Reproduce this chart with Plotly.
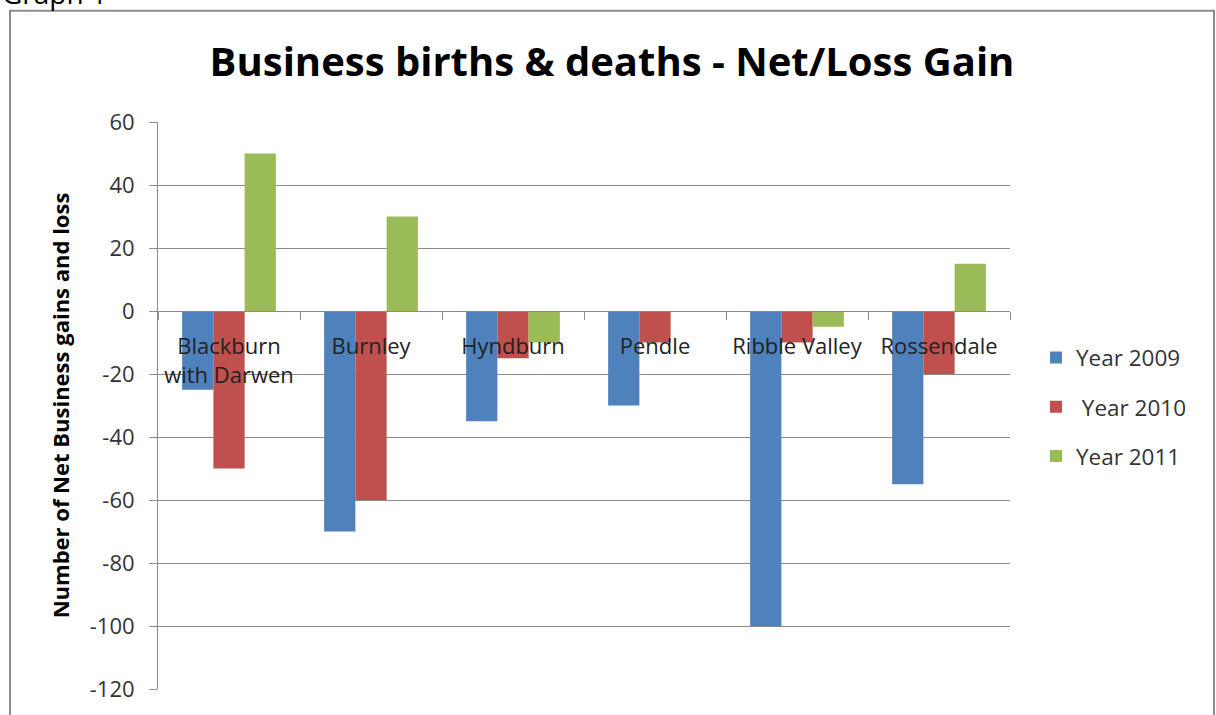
import plotly.graph_objects as go

categories = ["Blackburn<br>with Darwen", "Burnley", "Hyndburn", "Pendle", "Ribble Valley", "Rossendale"]
series_names = ["Year 2009", " Year 2010", "Year 2011"]
year_2009 = [-25, -70, -35, -30, -100, -55]
year_2010 = [-50, -60, -15, -10, -10, -20]
year_2011 = [50, 30, -10, 0, -5, 15]
colors = ["#4F81BD", "#C0504D", "#9BBB59"]
y_ticks = [-120, -100, -80, -60, -40, -20, 0, 20, 40, 60]

FONT = "Open Sans"
W, H = 1216, 715
# plot area in page pixels
L, R, T, B = 158, 1010, 122, 693

def px_x(p):
    return (p - L) / (R - L)

def px_y(p):
    return (B - p) / (B - T)

fig = go.Figure()
for name, vals, col in zip(series_names, [year_2009, year_2010, year_2011], colors):
    fig.add_trace(go.Bar(x=categories, y=vals, name=name, marker_color=col,
                         marker_line_width=0, legendgroup=name))

fig.update_layout(
    width=W, height=H,
    margin=dict(l=L, r=W - R, t=T, b=H - B),
    paper_bgcolor="white", plot_bgcolor="white",
    barmode="group", bargap=0.34, bargroupgap=0,
    font=dict(family=FONT, size=22, color="#333333"),
    title=dict(text="<b>Business births & deaths - Net/Loss Gain</b>",
               xref="container", x=612 / W, xanchor="center",
               yref="container", y=1 - 62 / H, yanchor="middle",
               font=dict(family=FONT, size=40, color="#000000")),
    legend=dict(x=px_x(1036), xanchor="left", y=px_y(409), yanchor="middle",
                font=dict(family=FONT, size=22.5, color="#333333"),
                tracegroupgap=17, bgcolor="rgba(0,0,0,0)"),
    showlegend=True,
)

fig.update_yaxes(
    range=[-120, 60], tickvals=y_ticks, ticktext=[str(v) for v in y_ticks],
    showgrid=True, gridcolor="#8c8c8c", gridwidth=1,
    zeroline=False, showline=True, linecolor="#8c8c8c", linewidth=1,
    ticks="outside", ticklen=8, tickcolor="#8c8c8c", ticklabelstandoff=10,
    tickfont=dict(family=FONT, size=22, color="#333333"),
    title=dict(text="<b>Number of Net Business gains and loss</b>",
               font=dict(family=FONT, size=22, color="#000000"), standoff=14),
)

fig.update_xaxes(
    anchor="free", position=2 / 3, showgrid=False, zeroline=False,
    showline=True, linecolor="#8c8c8c", linewidth=1,
    ticks="outside", ticklen=8, tickcolor="#8c8c8c", tickson="boundaries",
    ticklabelstandoff=16,
    tickfont=dict(family=FONT, size=22, color="#222222"),
)

# chart frame
fig.add_shape(type="rect", xref="paper", yref="paper",
              x0=px_x(10), x1=px_x(1214), y0=px_y(740), y1=px_y(10),
              line=dict(color="#8c8c8c", width=2), fillcolor="rgba(0,0,0,0)", layer="below")

# partially visible caption above the frame
fig.add_annotation(text="Graph 1", xref="paper", yref="paper",
                   x=px_x(0), xanchor="left", y=px_y(-8), yanchor="middle",
                   showarrow=False, font=dict(family=FONT, size=28, color="#000000"))

fig.write_html("out.html",
               config={"displayModeBar": False},
               post_script="document.body.style.margin='0px';document.body.style.overflow='hidden';")
